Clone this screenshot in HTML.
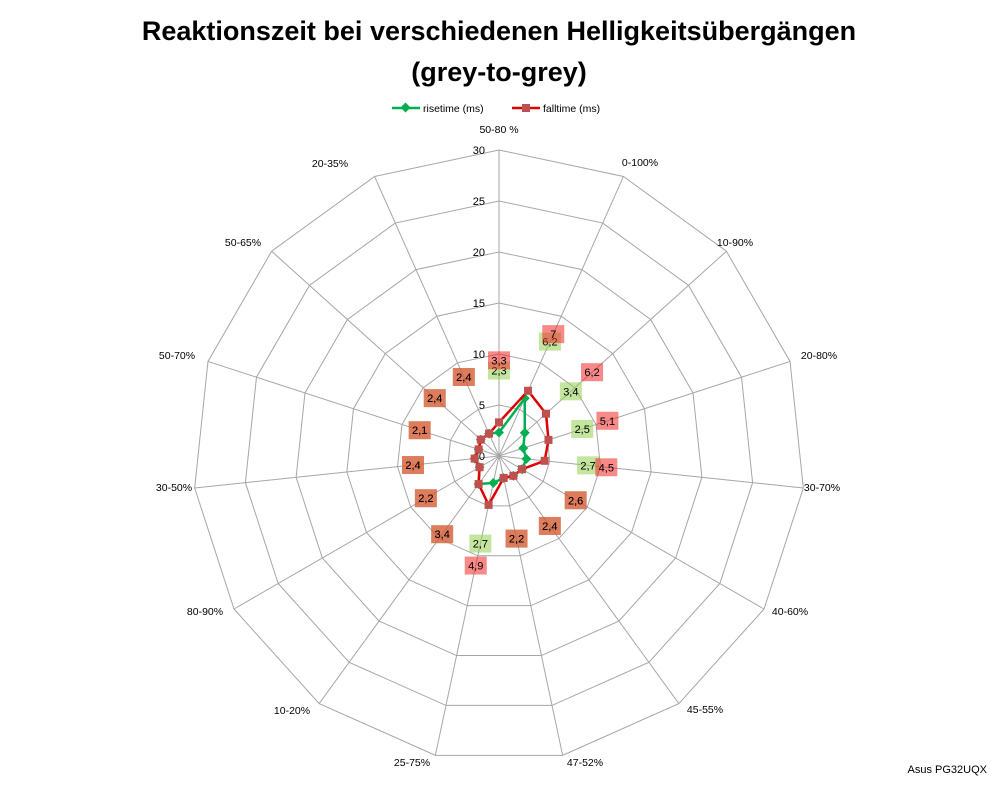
<!DOCTYPE html>
<html><head><meta charset="utf-8"><style>
body{margin:0;background:#fff;}
svg{display:block;font-family:"Liberation Sans",sans-serif;}
</style></head><body>
<svg id="s" width="998" height="786" viewBox="0 0 998 786" xmlns="http://www.w3.org/2000/svg">
<rect width="998" height="786" fill="#fff"/>
<text x="499" y="40" text-anchor="middle" font-size="27" font-weight="bold">Reaktionszeit bei verschiedenen Helligkeitsübergängen</text>
<text x="499" y="81" text-anchor="middle" font-size="27" font-weight="bold">(grey-to-grey)</text>
<line x1="392" y1="108" x2="420" y2="108" stroke="#00b050" stroke-width="2.5"/>
<rect x="402" y="104" width="7" height="7" fill="#00b050" transform="rotate(45 405.5 107.5)"/>
<text x="423" y="112" font-size="10.5">risetime (ms)</text>
<line x1="512" y1="108" x2="540" y2="108" stroke="#e00000" stroke-width="2.5"/>
<rect x="522" y="104" width="8" height="8" fill="#c0504d"/>
<text x="543" y="112" font-size="10.5">falltime (ms)</text>
<text x="987" y="773" text-anchor="end" font-size="11">Asus PG32UQX</text>
<g id="g"></g>
</svg>
<script>
const cx=499,cy=456,R=306,N=15,k=R/30;
const cats=["50-80 %","0-100%","10-90%","20-80%","30-70%","40-60%","45-55%","47-52%","25-75%","10-20%","80-90%","30-50%","50-70%","50-65%","20-35%"];
const lp=[[499,129],[640,162],[735,242],[819,355],[822,487],[790,611],[705,709],[585,762],[412,762],[292,710],[205,611],[174,487],[177,355],[243,242],[330,163]];
const rise=[2.3,6.2,3.4,2.5,2.7,2.6,2.4,2.2,2.7,3.4,2.2,2.4,2.1,2.4,2.4];
const fall=[3.3,7,6.2,5.1,4.5,2.6,2.4,2.2,4.9,3.4,2.2,2.4,2.1,2.4,2.4];
let h="";
function P(i,r){const a=i*2*Math.PI/N;return [cx+r*Math.sin(a),cy-r*Math.cos(a)];}
for(let v=5;v<=30;v+=5){let pts=[];for(let i=0;i<N;i++)pts.push(P(i,v*k).join(","));h+=`<polygon points="${pts.join(" ")}" fill="none" stroke="#a6a6a6" stroke-width="1"/>`;}
for(let i=0;i<N;i++){const p=P(i,R);h+=`<line x1="${cx}" y1="${cy}" x2="${p[0]}" y2="${p[1]}" stroke="#a6a6a6"/>`;}
for(let v=0;v<=30;v+=5){h+=`<text x="485" y="${cy-v*k+4}" text-anchor="end" font-size="11">${v}</text>`;}
for(let i=0;i<N;i++){h+=`<text x="${lp[i][0]}" y="${lp[i][1]+4}" text-anchor="middle" font-size="10.5">${cats[i]}</text>`;}
function line(d,c){let pts=[];for(let i=0;i<N;i++)pts.push(P(i,d[i]*k).join(","));pts.push(pts[0]);return `<polyline points="${pts.join(" ")}" fill="none" stroke="${c}" stroke-width="2.5"/>`;}
h+=line(rise,"#00b050");
for(let i=0;i<N;i++){const p=P(i,rise[i]*k);h+=`<rect x="${p[0]-3.5}" y="${p[1]-3.5}" width="7" height="7" fill="#00b050" transform="rotate(45 ${p[0]} ${p[1]})"/>`;}
h+=line(fall,"#e00000");
for(let i=0;i<N;i++){const p=P(i,fall[i]*k);h+=`<rect x="${p[0]-4}" y="${p[1]-4}" width="8" height="8" fill="#c0504d"/>`;}
function lab(d,c,dy){for(let i=0;i<N;i++){const p=P(i,d[i]*k+62);const t=String(d[i]).replace(".",",");h+=`<rect x="${p[0]-11}" y="${p[1]-9+dy}" width="22" height="18" fill="${c}"/><text x="${p[0]}" y="${p[1]+4+dy}" text-anchor="middle" font-size="11">${t}</text>`;}}
lab(rise,"rgba(146,208,80,0.55)",0);
lab(fall,"rgba(240,40,40,0.55)",0);
document.getElementById("g").innerHTML=h;
</script>
</body></html>
